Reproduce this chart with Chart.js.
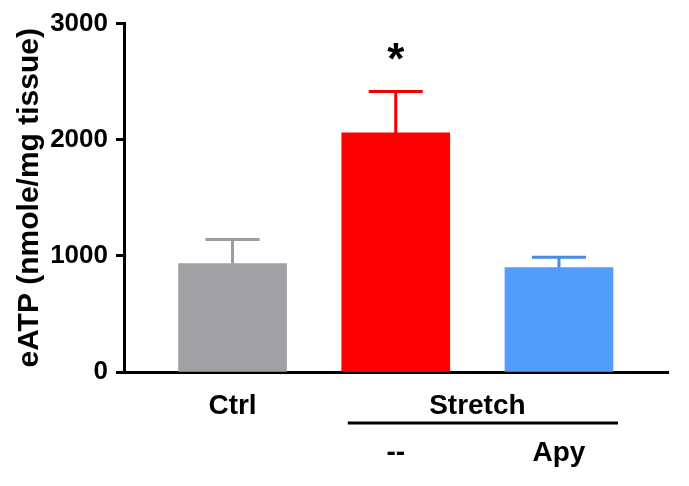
<!DOCTYPE html>
<html>
<head>
<meta charset="utf-8">
<script src="https://cdn.jsdelivr.net/npm/chart.js@4"></script>
<style>
  body { margin: 0; background: #fff; }
  #wrap { width: 689px; height: 486px; }
</style>
</head>
<body>
<div id="wrap"><canvas id="chart" width="689" height="486"></canvas></div>
<script>
// data
const categories = ['Ctrl', '--', 'Apy'];
const groupLabel = 'Stretch';      // spans the 2nd and 3rd bars
const means = [934, 2059, 900];
const errTop = [1140, 2416, 988];  // mean + SEM
const marks = ['', '*', ''];
const yTicks = [0, 1000, 2000, 3000];

const barColors = ['#a0a0a5', '#ff0000', '#529cfb'];
const capColors = ['#9b9ba0', '#f20000', '#4a8ae0'];
const FONT = 'Liberation Sans, Arial, sans-serif';

// x positions 1..n, group label sits between its two bars
const xs = categories.map((c, i) => i + 1);
const groupPos = (xs[1] + xs[2]) / 2;
const xTickVals = [xs[0], xs[1], groupPos, xs[2]];
const xTickLabels = [categories[0], ['', categories[1]], groupLabel, ['', categories[2]]];

const errorBars = {
  id: 'errorBars',
  afterDatasetsDraw(chart) {
    const ctx = chart.ctx;
    const y = chart.scales.y;
    const meta = chart.getDatasetMeta(0);
    ctx.save();
    meta.data.forEach((bar, i) => {
      const top = y.getPixelForValue(errTop[i]);
      ctx.strokeStyle = capColors[i];
      ctx.lineWidth = 3;
      ctx.beginPath();
      ctx.moveTo(bar.x, bar.y);
      ctx.lineTo(bar.x, top);
      ctx.moveTo(bar.x - 27, top);
      ctx.lineTo(bar.x + 27, top);
      ctx.stroke();
      if (marks[i]) {
        ctx.fillStyle = '#000';
        ctx.font = 'bold 44px ' + FONT;
        ctx.textAlign = 'center';
        ctx.textBaseline = 'middle';
        ctx.fillText(marks[i], bar.x, top - 30);
      }
    });
    // line under the group label
    const b1 = meta.data[1], b2 = meta.data[2];
    const x = chart.scales.x;
    const ly = x.top + 51;
    ctx.strokeStyle = '#000';
    ctx.lineWidth = 3;
    ctx.beginPath();
    ctx.moveTo(b1.x - b1.width / 2 + 6, ly);
    ctx.lineTo(b2.x + b2.width / 2 + 5, ly);
    ctx.stroke();
    ctx.restore();
  }
};

new Chart(document.getElementById('chart'), {
  type: 'bar',
  data: {
    datasets: [{
      data: xs.map((x, i) => ({ x: x, y: means[i] })),
      backgroundColor: barColors,
      borderWidth: 0,
      barThickness: 108
    }]
  },
  options: {
    responsive: false,
    animation: false,
    layout: { padding: { left: 0, top: 22, right: 21, bottom: 0 } },
    plugins: { legend: { display: false }, tooltip: { enabled: false } },
    scales: {
      x: {
        type: 'linear',
        offset: false,
        min: 0.335,
        max: 3.668,
        afterBuildTicks: s => { s.ticks = xTickVals.map(v => ({ value: v })); },
        afterFit: s => { s.height = 114; },
        ticks: {
          autoSkip: false,
          maxRotation: 0,
          padding: 3,
          color: '#000',
          font: { family: FONT, size: 28, weight: 'bold', lineHeight: 1.68 },
          callback: (v, i) => xTickLabels[i]
        },
        grid: { display: false },
        border: { color: '#000', width: 3 }
      },
      y: {
        min: 0,
        max: 3000,
        afterBuildTicks: s => { s.ticks = yTicks.map(v => ({ value: v })); },
        afterFit: s => { s.width = 124; },
        ticks: {
          padding: 8,
          color: '#000',
          font: { family: FONT, size: 26, weight: 'bold' },
          callback: v => String(v)
        },
        grid: { drawOnChartArea: false, tickLength: 8, tickWidth: 3, tickColor: '#000' },
        border: { color: '#000', width: 3 },
        title: {
          display: true,
          text: 'eATP (nmole/mg tissue)',
          color: '#000',
          font: { family: FONT, size: 30, weight: 'bold' },
          padding: { top: 12, bottom: 4 }
        }
      }
    }
  },
  plugins: [errorBars]
});
</script>
</body>
</html>
